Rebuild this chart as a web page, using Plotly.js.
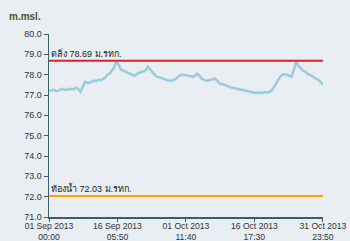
<!DOCTYPE html>
<html><head><meta charset="utf-8">
<script src="https://cdn.plot.ly/plotly-3.0.1.min.js"></script>
<style>html,body{margin:0;padding:0;background:#e8eef2;}#c{width:350px;height:241px;}</style>
</head><body><div id="c"></div>
<script>
// water level (m.msl.), 01 Sep 2013 .. 31 Oct 2013, twice daily
const startDate = '2013-09-01 00:00';
const endDate = '2013-10-31 23:50';
const levels = [77.2,77.22,77.25,77.2,77.2,77.27,77.3,77.25,77.25,77.3,77.3,77.28,77.35,77.3,77.15,77.4,
  77.65,77.6,77.6,77.65,77.7,77.68,77.75,77.72,77.8,77.85,78.0,78.05,78.2,78.35,78.65,78.5,
  78.25,78.2,78.15,78.1,78.05,78.0,77.95,78.02,78.1,78.12,78.15,78.2,78.4,78.25,78.1,78.0,
  77.9,77.88,77.85,77.8,77.75,77.72,77.7,77.72,77.75,77.85,77.95,78.0,
  78.0,77.98,77.95,77.92,77.9,77.95,78.05,77.95,77.8,77.75,77.7,77.72,77.75,77.78,77.8,77.7,77.55,77.55,
  77.5,77.45,77.4,77.38,77.35,77.33,77.3,77.28,77.25,77.23,77.2,77.18,77.15,77.13,77.1,77.12,77.1,77.1,
  77.15,77.12,77.15,77.2,77.35,77.55,77.75,77.9,78.0,78.02,78.0,77.95,77.9,78.2,78.65,78.45,
  78.3,78.2,78.15,78.05,78.0,77.95,77.85,77.8,77.75,77.65,77.5];
const bankLevel = 78.69;
const bedLevel = 72.03;
const bankLabel = 'ตลิ่ง 78.69 ม.รทก.';
const bedLabel = 'ท้องน้ำ 72.03 ม.รทก.';
const tickVals = ['2013-09-01 00:00','2013-09-16 05:50','2013-10-01 11:40','2013-10-16 17:30','2013-10-31 23:50'];
const tickText = ['01 Sep 2013<br>00:00','16 Sep 2013<br>05:50','01 Oct 2013<br>11:40','16 Oct 2013<br>17:30','31 Oct 2013<br>23:50'];
const yTicks = [71,72,73,74,75,76,77,78,79,80];

const t0 = new Date('2013-09-01T00:00:00Z').getTime();
const tEnd = new Date('2013-10-31T23:50:00Z').getTime();
const step = (tEnd - t0) / (levels.length - 1);
const dates = levels.map((v,i)=> new Date(t0 + i*step).toISOString().slice(0,19).replace('T',' '));

const traces = [
  {x:dates, y:levels, type:'scatter', mode:'lines', line:{color:'rgba(110,110,110,0.15)', width:3.2}, hoverinfo:'skip'},
  {x:dates, y:levels, type:'scatter', mode:'lines', line:{color:'#8ccbe4', width:1.8}},
  {x:[startDate,endDate], y:[bankLevel,bankLevel], type:'scatter', mode:'lines', line:{color:'#d8232a', width:2}},
  {x:[startDate,endDate], y:[bedLevel,bedLevel], type:'scatter', mode:'lines', line:{color:'#ffa500', width:2}}
];
const fam = 'Liberation Sans, Arial, sans-serif';
const fnt = {family:fam, size:9, color:'#333'};
const layout = {
  width:350, height:241, showlegend:false,
  margin:{l:49, r:27, t:34, b:24},
  paper_bgcolor:'#e8eef2', plot_bgcolor:'#e8eef2',
  font:fnt,
  xaxis:{type:'date', range:[startDate,'2013-11-01 00:30'], tickvals:tickVals, ticktext:tickText,
    showgrid:false, zeroline:false, showline:true, linecolor:'#3b5d68', linewidth:1.5,
    ticks:'outside', ticklen:3, tickcolor:'#3b5d68', tickfont:{family:fam, size:8.6, color:'#333'}, ticklabelstandoff:-3},
  yaxis:{range:[71,80], tickvals:yTicks, ticktext:yTicks.map(v=>v.toFixed(1)),
    showgrid:false, zeroline:false, showline:true, linecolor:'#3b5d68', linewidth:1.5,
    ticks:'outside', ticklen:4, tickcolor:'#3b5d68', tickfont:fnt},
  annotations:[
    {x:startDate, y:bankLevel, xref:'x', yref:'y', text:bankLabel, showarrow:false, xanchor:'left', yanchor:'bottom', font:{family:fam, size:9, color:'#222'}},
    {x:startDate, y:bedLevel, xref:'x', yref:'y', text:bedLabel, showarrow:false, xanchor:'left', yanchor:'bottom', font:{family:fam, size:9, color:'#222'}},
    {x:-42/274, y:1+17/183, xref:'paper', yref:'paper', xanchor:'left', yanchor:'middle', text:'<b>m.msl.</b>', showarrow:false, font:{family:fam, size:10, color:'#44561f'}}
  ]
};
Plotly.newPlot('c', traces, layout, {staticPlot:true, displayModeBar:false});
</script></body></html>
